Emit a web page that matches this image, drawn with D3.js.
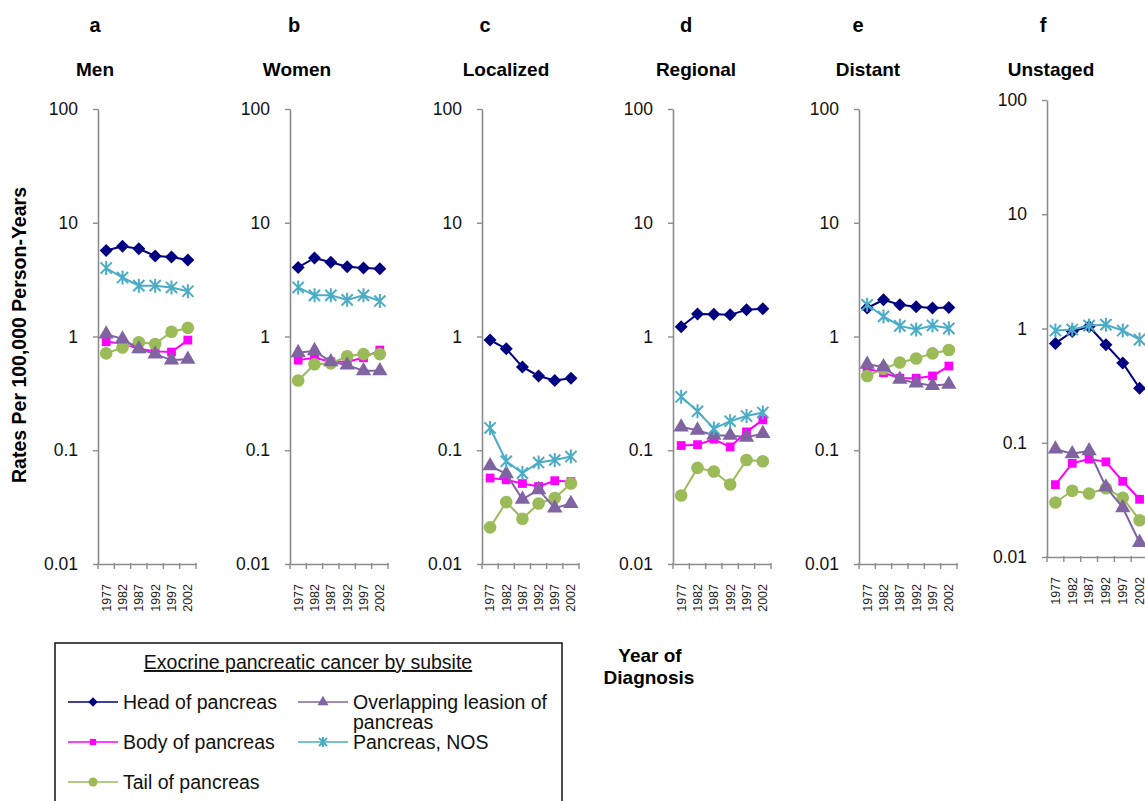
<!DOCTYPE html>
<html>
<head>
<meta charset="utf-8">
<script src="https://cdn.jsdelivr.net/npm/d3@7"></script>
<style>
  html, body { margin: 0; padding: 0; background: #fff; }
  svg { display: block; font-family: "Liberation Sans", Arial, sans-serif; }
</style>
</head>
<body>
<svg id="chart" width="1145" height="801"></svg>
<script>
// ---------------- data ----------------
const years = ["1977", "1982", "1987", "1992", "1997", "2002"];
const panelLetters = ["a", "b", "c", "d", "e", "f"];
const panelTitles = ["Men", "Women", "Localized", "Regional", "Distant", "Unstaged"];
const yTickValues = [0.01, 0.1, 1, 10, 100];
const yTickLabels = ["0.01", "0.1", "1", "10", "100"];
const seriesNames = ["Head of pancreas", "Body of pancreas", "Tail of pancreas",
                     "Overlapping leasion of pancreas", "Pancreas, NOS"];

// one row per panel (a..f), one value per year
const headOfPancreas = [
  [5.7, 6.2, 5.9, 5.1, 5.0, 4.7],
  [4.05, 4.9, 4.5, 4.1, 4.0, 3.95],
  [0.93, 0.78, 0.54, 0.45, 0.41, 0.43],
  [1.22, 1.58, 1.57, 1.55, 1.72, 1.75],
  [1.78, 2.1, 1.9, 1.83, 1.78, 1.8],
  [0.74, 0.94, 1.04, 0.72, 0.5, 0.30]
];
const bodyOfPancreas = [
  [0.9, 0.87, 0.78, 0.74, 0.73, 0.93],
  [0.62, 0.65, 0.6, 0.6, 0.65, 0.76],
  [0.057, 0.055, 0.051, 0.048, 0.054, 0.053],
  [0.11, 0.112, 0.125, 0.107, 0.145, 0.185],
  [0.52, 0.48, 0.43, 0.43, 0.45, 0.55],
  [0.043, 0.066, 0.072, 0.068, 0.046, 0.032]
];
const tailOfPancreas = [
  [0.71, 0.8, 0.89, 0.86, 1.1, 1.19],
  [0.41, 0.57, 0.58, 0.67, 0.7, 0.7],
  [0.021, 0.035, 0.025, 0.034, 0.038, 0.051],
  [0.04, 0.07, 0.065, 0.05, 0.082, 0.08],
  [0.45, 0.52, 0.59, 0.64, 0.71, 0.76],
  [0.030, 0.038, 0.036, 0.040, 0.033, 0.021]
];
const overlappingLesion = [
  [1.05, 0.95, 0.78, 0.7, 0.62, 0.63],
  [0.72, 0.75, 0.6, 0.56, 0.5, 0.5],
  [0.073, 0.062, 0.037, 0.045, 0.031, 0.034],
  [0.16, 0.15, 0.135, 0.135, 0.13, 0.14],
  [0.57, 0.54, 0.42, 0.39, 0.37, 0.38],
  [0.088, 0.08, 0.085, 0.041, 0.027, 0.0134]
];
const pancreasNOS = [
  [4.0, 3.3, 2.8, 2.8, 2.7, 2.5],
  [2.7, 2.3, 2.3, 2.1, 2.3, 2.05],
  [0.157, 0.08, 0.063, 0.078, 0.082, 0.088],
  [0.295, 0.22, 0.155, 0.18, 0.2, 0.215],
  [1.9, 1.5, 1.24, 1.15, 1.25, 1.18],
  [0.96, 0.98, 1.06, 1.08, 0.96, 0.8]
];

// ---------------- styling / layout ----------------
const seriesStyle = [
  { data: headOfPancreas,    color: "#000080", marker: "diamond" },
  { data: bodyOfPancreas,    color: "#FF00FF", marker: "square" },
  { data: tailOfPancreas,    color: "#9BBB59", marker: "circle" },
  { data: overlappingLesion, color: "#8064A2", marker: "triangle" },
  { data: pancreasNOS,       color: "#4BACC6", marker: "star" }
];

const panelLayout = [
  { left: 98,   width: 98,  top: 109, bottom: 564 },
  { left: 290,  width: 98,  top: 109, bottom: 564 },
  { left: 482,  width: 97,  top: 109, bottom: 564 },
  { left: 673,  width: 98,  top: 109, bottom: 564 },
  { left: 859,  width: 98,  top: 109, bottom: 564 },
  { left: 1047, width: 101, top: 100, bottom: 557 }
];
const letterX = [95, 294, 485, 686, 858, 1043];
const titleX  = [95, 297, 506, 696, 868, 1051];

const svg = d3.select("#chart");
const axisColor = "#8c8c8c";

function drawMarker(g, type, cx, cy, color, s) {
  if (type === "star") {
    const r = s * 0.5;
    const d = r * 0.8;
    g.append("path")
      .attr("d", `M${cx - d},${cy - d}L${cx + d},${cy + d}M${cx - d},${cy + d}L${cx + d},${cy - d}M${cx},${cy - r}L${cx},${cy + r}M${cx - r * 0.2},${cy}L${cx + r * 0.2},${cy}`)
      .attr("stroke", color).attr("stroke-width", 2).attr("fill", "none");
    return;
  }
  const sym = { diamond: d3.symbolDiamond2, square: d3.symbolSquare2,
                circle: d3.symbolCircle, triangle: d3.symbolTriangle }[type];
  let area;
  if (type === "diamond") area = s * s * 0.55;
  else if (type === "square") area = s * s * 0.5;
  else if (type === "circle") area = Math.PI * (s * 0.45) * (s * 0.45);
  else area = s * s * 0.52;
  g.append("path")
    .attr("d", d3.symbol().type(sym).size(area)())
    .attr("transform", `translate(${cx},${cy})`)
    .attr("fill", color);
}

// ---------------- panels ----------------
panelLayout.forEach((p, i) => {
  const x = d3.scaleBand().domain(years).range([p.left, p.left + p.width]).padding(0);
  const y = d3.scaleLog().domain([0.01, 100]).range([p.bottom, p.top]);
  const g = svg.append("g");

  // panel letter and title
  svg.append("text").attr("x", letterX[i]).attr("y", 32)
    .attr("text-anchor", "middle").attr("font-size", 20).attr("font-weight", "bold")
    .text(panelLetters[i]);
  svg.append("text").attr("x", titleX[i]).attr("y", 76)
    .attr("text-anchor", "middle").attr("font-size", 19).attr("font-weight", "bold")
    .text(panelTitles[i]);

  // y axis
  const yAxis = d3.axisLeft(y).tickValues(yTickValues)
    .tickFormat((d, k) => yTickLabels[k]).tickSize(5).tickPadding(15).tickSizeOuter(0);
  const ya = g.append("g").attr("transform", `translate(${p.left},0)`).call(yAxis);
  ya.select(".domain").attr("stroke", axisColor).attr("stroke-width", 1.6);
  ya.selectAll(".tick line").attr("stroke", axisColor).attr("stroke-width", 1.4);
  ya.selectAll(".tick text").attr("font-size", 17.5).attr("fill", "#111")
    .attr("font-family", "'Liberation Sans', Arial, sans-serif");

  // x axis: labels at band centres, ticks at band edges
  const xAxis = d3.axisBottom(x).tickSize(0).tickSizeOuter(0);
  const xa = g.append("g").attr("transform", `translate(0,${p.bottom})`).call(xAxis);
  xa.select(".domain").attr("stroke", axisColor).attr("stroke-width", 1.6);
  xa.selectAll(".tick text")
    .attr("font-size", 12.5).attr("fill", "#222")
    .attr("font-family", "'Liberation Sans', Arial, sans-serif")
    .attr("text-anchor", "end")
    .attr("transform", "translate(0,20) rotate(-90)")
    .attr("x", 0).attr("y", 0).attr("dy", "0.35em");
  const edges = years.map(yr => x(yr)).concat([x(years[years.length - 1]) + x.bandwidth()]);
  xa.selectAll(".edge").data(edges).enter().append("line")
    .attr("x1", d => d).attr("x2", d => d).attr("y1", -1).attr("y2", 5)
    .attr("stroke", axisColor).attr("stroke-width", 1.4);

  // series
  seriesStyle.forEach(s => {
    const vals = s.data[i];
    const pts = vals.map((v, k) => [x(years[k]) + x.bandwidth() / 2, y(v)]);
    g.append("path")
      .attr("d", d3.line()(pts))
      .attr("fill", "none").attr("stroke", s.color).attr("stroke-width", 2);
    pts.forEach(pt => drawMarker(g, s.marker, pt[0], pt[1], s.color, 14));
  });
});

// ---------------- axis titles ----------------
svg.append("text")
  .attr("transform", "translate(26,335) rotate(-90)")
  .attr("text-anchor", "middle").attr("font-size", 19.5).attr("font-weight", "bold")
  .text("Rates Per 100,000 Person-Years");

svg.append("text").attr("x", 650).attr("y", 662)
  .attr("text-anchor", "middle").attr("font-size", 19).attr("font-weight", "bold")
  .text("Year of");
svg.append("text").attr("x", 649).attr("y", 684)
  .attr("text-anchor", "middle").attr("font-size", 19).attr("font-weight", "bold")
  .text("Diagnosis");

// ---------------- legend ----------------
const lg = svg.append("g");
lg.append("rect").attr("x", 55).attr("y", 643).attr("width", 507).attr("height", 180)
  .attr("fill", "#fff").attr("stroke", "#111").attr("stroke-width", 1.5);
lg.append("text").attr("x", 308).attr("y", 669)
  .attr("text-anchor", "middle").attr("font-size", 19.5)
  .attr("text-decoration", "underline").attr("fill", "#111")
  .text("Exocrine pancreatic cancer by subsite");

const legendPos = [
  { x: 68,  y: 702 },
  { x: 68,  y: 742 },
  { x: 68,  y: 782 },
  { x: 298, y: 702 },
  { x: 298, y: 742 }
];
seriesStyle.forEach((s, k) => {
  const pos = legendPos[k];
  lg.append("line").attr("x1", pos.x).attr("x2", pos.x + 50)
    .attr("y1", pos.y).attr("y2", pos.y)
    .attr("stroke", s.color).attr("stroke-width", 1.6);
  drawMarker(lg, s.marker, pos.x + 25, pos.y, s.color, 10);
  const name = seriesNames[k];
  if (name === "Overlapping leasion of pancreas") {
    lg.append("text").attr("x", pos.x + 55).attr("y", pos.y).attr("dy", "0.35em")
      .attr("font-size", 19.5).attr("fill", "#111").text("Overlapping leasion of");
    lg.append("text").attr("x", pos.x + 55).attr("y", pos.y + 20).attr("dy", "0.35em")
      .attr("font-size", 19.5).attr("fill", "#111").text("pancreas");
  } else {
    lg.append("text").attr("x", pos.x + 55).attr("y", pos.y).attr("dy", "0.35em")
      .attr("font-size", 19.5).attr("fill", "#111").text(name);
  }
});
</script>
</body>
</html>
